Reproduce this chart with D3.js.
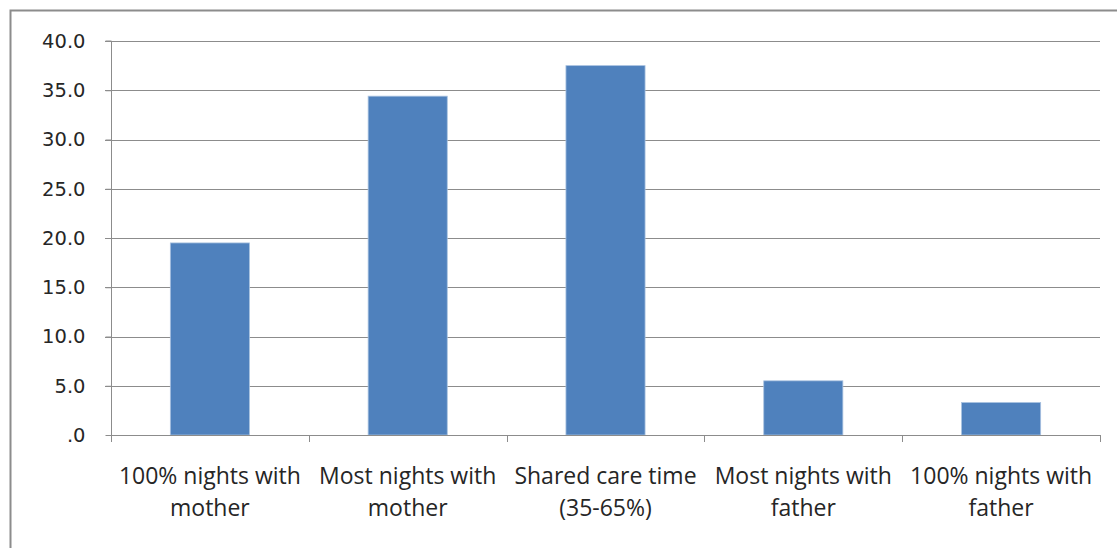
<!DOCTYPE html>
<html><head><meta charset="utf-8">
<script src="https://cdn.jsdelivr.net/npm/d3@7"></script>
<style>body{margin:0;background:#fff}svg{display:block}</style>
</head><body>
<svg id="c" width="1117" height="548"></svg>
<script>
const categories = [["100% nights with","mother"],["Most nights with","mother"],["Shared care time","(35-65%)"],["Most nights with","father"],["100% nights with","father"]];
const values = [19.5, 34.4, 37.5, 5.5, 3.3];
const yTicks = [0,5,10,15,20,25,30,35,40];
const yTickLabels = [".0","5.0","10.0","15.0","20.0","25.0","30.0","35.0","40.0"];

(function(){
const svg = d3.select("#c");
const pL = 111, pR = 1100, pT = 41, pB = 435;
const labFont = "'Open Sans', sans-serif";
const tickFont = "'DejaVu Sans', sans-serif";

// outer frame (cropped at right and bottom)
svg.append("path").attr("d", `M10.5,548 V10.5 H1117`).attr("fill","none").attr("stroke","#8c8c8c").attr("stroke-width",2);

const x = d3.scaleBand().domain(d3.range(categories.length)).range([pL, pR]).paddingInner(0.6).paddingOuter(0.3);
const xEdge = d3.scaleLinear().domain([0, categories.length]).range([pL, pR]);
const y = d3.scaleLinear().domain([0, 40]).range([pB, pT]);

// gridlines
svg.append("g").selectAll("line").data(yTicks.filter(d=>d>0)).join("line")
  .attr("x1", pL-6).attr("x2", pR).attr("y1", d=>Math.round(y(d))+0.5).attr("y2", d=>Math.round(y(d))+0.5)
  .attr("stroke","#8c8c8c").attr("stroke-width",1.2);

// y axis
const yAxis = d3.axisLeft(y).tickValues(yTicks).tickFormat((d,i)=>yTickLabels[i]).tickSize(6).tickPadding(8);
const ga = svg.append("g").attr("transform",`translate(${pL+0.5},0)`).call(yAxis);
ga.select(".domain").attr("stroke","#8c8c8c").attr("d",`M-6,${pT}H0V${pB}`);
ga.selectAll(".tick line").attr("stroke","#8c8c8c");
ga.selectAll(".tick text").attr("font-family",tickFont).attr("font-size",19.5).attr("fill","#262626").attr("x",-26);

// bars
svg.append("g").selectAll("rect").data(values).join("rect")
  .attr("x",(d,i)=>x(i)).attr("width",x.bandwidth())
  .attr("y",d=>y(d)).attr("height",d=>pB-y(d))
  .attr("fill","#4f81bd").attr("stroke","#a9c2e0").attr("stroke-width",0.8);

// x axis
svg.append("line").attr("x1",pL).attr("x2",pR).attr("y1",pB+0.5).attr("y2",pB+0.5).attr("stroke","#8c8c8c").attr("stroke-width",1.2);
svg.append("g").selectAll("line").data(d3.range(categories.length+1)).join("line")
  .attr("x1",d=>Math.round(xEdge(d))+0.5).attr("x2",d=>Math.round(xEdge(d))+0.5)
  .attr("y1",pB).attr("y2",pB+7).attr("stroke","#8c8c8c");

// category labels
const lab = svg.append("g").selectAll("text").data(categories).join("text")
  .attr("font-family",labFont).attr("font-size",23).attr("fill","#262626").attr("text-anchor","middle");
lab.each(function(d,i){
  const t = d3.select(this);
  d.forEach((s,j)=>t.append("tspan").attr("x",x(i)+x.bandwidth()/2).attr("y",484+j*32).text(s));
});
})();
</script>
</body></html>
